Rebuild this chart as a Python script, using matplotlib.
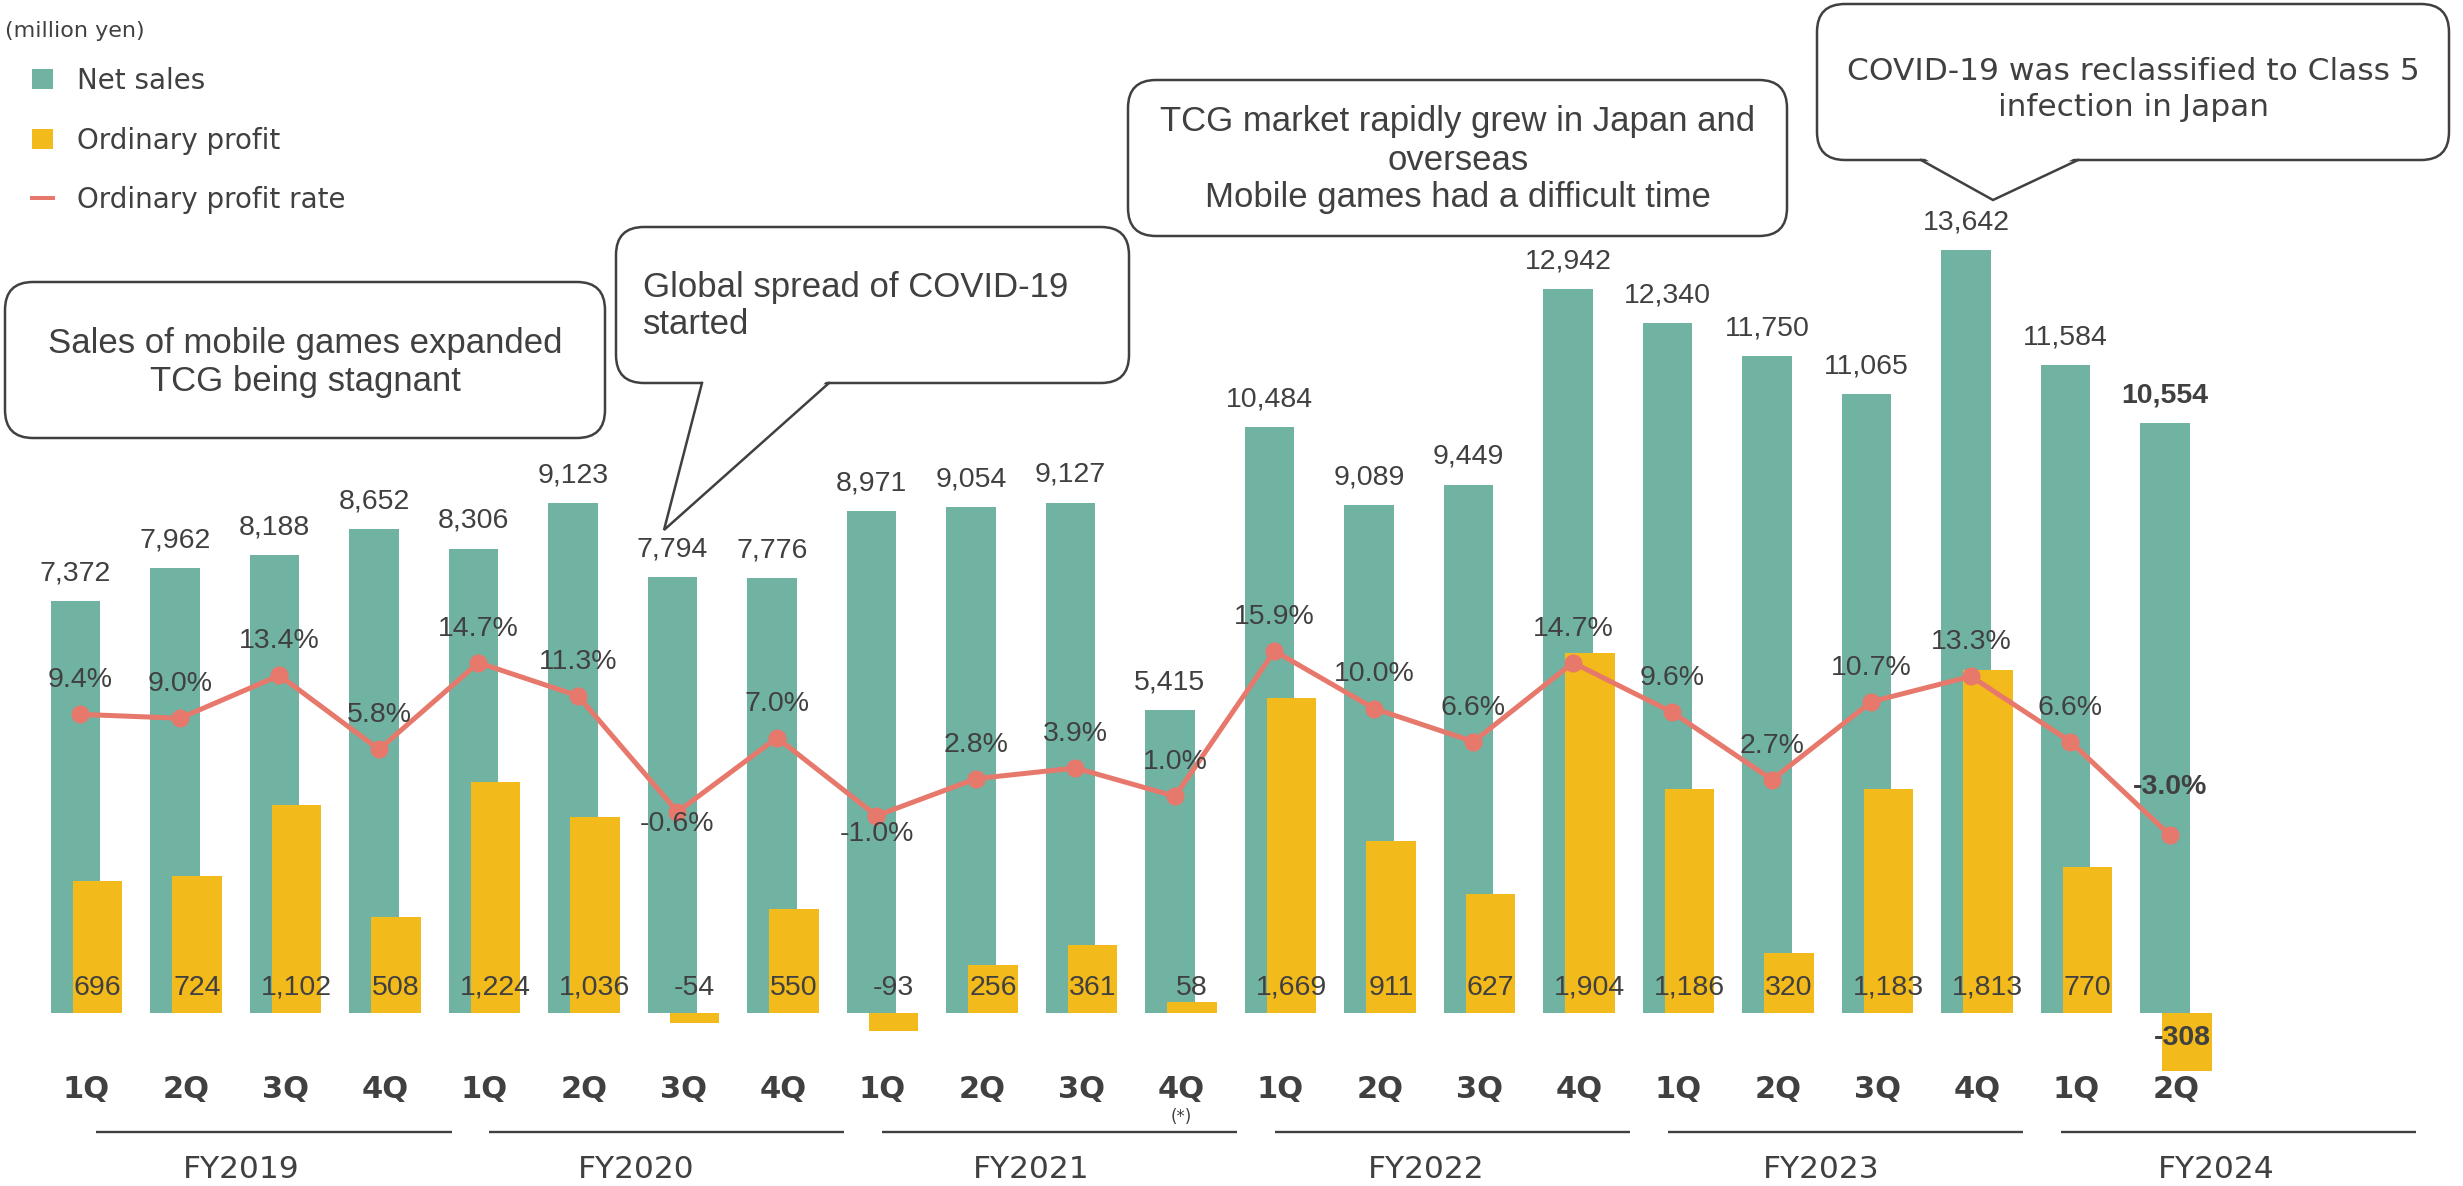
import matplotlib
matplotlib.use("Agg")
import matplotlib.pyplot as plt
import matplotlib.transforms as mtransforms
from matplotlib.patches import FancyBboxPatch, Polygon, Patch
from matplotlib.lines import Line2D
import numpy as np

# ---------------------------------------------------------------- data
fiscal_years = ["FY2019", "FY2020", "FY2021", "FY2022", "FY2023", "FY2024"]
quarters = ["1Q", "2Q", "3Q", "4Q"] * 5 + ["1Q", "2Q"]
net_sales = [7372, 7962, 8188, 8652, 8306, 9123, 7794, 7776,
             8971, 9054, 9127, 5415, 10484, 9089, 9449, 12942,
             12340, 11750, 11065, 13642, 11584, 10554]
ordinary_profit = [696, 724, 1102, 508, 1224, 1036, -54, 550,
                   -93, 256, 361, 58, 1669, 911, 627, 1904,
                   1186, 320, 1183, 1813, 770, -308]
profit_rate = [9.4, 9.0, 13.4, 5.8, 14.7, 11.3, -0.6, 7.0,
               -1.0, 2.8, 3.9, 1.0, 15.9, 10.0, 6.6, 14.7,
               9.6, 2.7, 10.7, 13.3, 6.6, -3.0]

# ---------------------------------------------------------------- style
W, H, DPI = 2463, 1186, 100
TEAL = "#71B3A2"
GOLD = "#F3BA1B"
CORAL = "#E7786C"
INK = "#404040"
NUM_FONT = "Liberation Sans"
UI_FONT = "DejaVu Sans"

STEP = 99.5        # pixels between quarters
X0 = 75.5          # pixel x of the first sales bar centre
BASE = 173         # pixel height of the zero line above the bottom edge
SALES_PX = 0.05591  # pixels per million yen (net sales)
PROFIT_PX = 0.189   # pixels per million yen (ordinary profit)
RATE_ZERO = 380     # pixel height of 0 % above the bottom edge
RATE_PX = 9.75      # pixels per percentage point

fig = plt.figure(figsize=(W / DPI, H / DPI), dpi=DPI)
ax_sales = fig.add_axes([0, 0, 1, 1])
ax_profit = ax_sales.twinx()
ax_rate = ax_sales.twinx()
ax_note = fig.add_axes([0, 0, 1, 1], label="notes")
for a in (ax_sales, ax_profit, ax_rate, ax_note):
    a.set_axis_off()
    a.patch.set_visible(False)

ax_sales.set_xlim(-X0 / STEP, (W - X0) / STEP)
ax_sales.set_ylim(-BASE / SALES_PX, (H - BASE) / SALES_PX)
ax_profit.set_ylim(-BASE / PROFIT_PX, (H - BASE) / PROFIT_PX)
ax_rate.set_ylim(-RATE_ZERO / RATE_PX, (H - RATE_ZERO) / RATE_PX)
ax_note.set_xlim(0, W)
ax_note.set_ylim(H, 0)

x = np.arange(len(net_sales))
last = len(net_sales) - 1
BAR_W = 0.495
PROFIT_SHIFT = 0.22
RATE_SHIFT = 0.05

# ---------------------------------------------------------------- marks
ax_sales.bar(x, net_sales, width=BAR_W, color=TEAL, zorder=2)
ax_profit.bar(x + PROFIT_SHIFT, ordinary_profit, width=BAR_W, color=GOLD, zorder=2)
ax_rate.plot(x + RATE_SHIFT, profit_rate, color=CORAL, lw=3.6,
             marker="o", ms=12, zorder=3, solid_capstyle="round")

# ---------------------------------------------------------------- value labels
for i, v in enumerate(net_sales):
    ax_sales.annotate(f"{v:,}", (x[i], v), xytext=(0, 20), textcoords="offset points",
                      ha="center", va="center", fontsize=20.5, family=NUM_FONT,
                      color=INK, fontweight="bold" if i == last else "normal", zorder=5)

for i, v in enumerate(ordinary_profit):
    below = i == last
    ax_profit.annotate(f"{v:,}", (x[i] + PROFIT_SHIFT - (0.05 if below else 0), 0),
                       xytext=(0, -18 if below else 18), textcoords="offset points",
                       ha="center", va="center", fontsize=20.5, family=NUM_FONT,
                       color=INK, fontweight="bold" if below else "normal", zorder=5)

rate_label_offset = {6: -8.6, 8: -13.0, last: 34.5}
for i, v in enumerate(profit_rate):
    ax_rate.annotate(f"{v:.1f}%", (x[i] + RATE_SHIFT, v),
                     xytext=(0, rate_label_offset.get(i, 24.5)), textcoords="offset points",
                     ha="center", va="center", fontsize=20.5, family=NUM_FONT,
                     color=INK, fontweight="bold" if i == last else "normal", zorder=6)

# ---------------------------------------------------------------- category axis
bt = mtransforms.blended_transform_factory(ax_sales.transData, ax_note.transData)
for i, q in enumerate(quarters):
    ax_note.text(x[i] + 0.11, 1090, q, transform=bt, ha="center", va="center",
                 fontsize=22, fontweight="bold", family=UI_FONT, color=INK)

for k, fy in enumerate(fiscal_years):
    start = 4 * k * 0.987 + 0.21
    ax_note.add_artist(Line2D([start, start + 3.57], [1132, 1132], transform=bt,
                              color=INK, lw=1.7, solid_capstyle="butt"))
    ax_note.text(1.663 + 3.97 * k, 1169, fy, transform=bt, ha="center", va="center",
                 fontsize=22.5, family=UI_FONT, color=INK)

ax_note.text(x[11] + 0.11, 1117, "(*)", transform=bt, ha="center", va="center",
             fontsize=12, family=UI_FONT, color=INK)

# ---------------------------------------------------------------- callouts
def callout(left, top, width, height, lines, ys, text_x, ha, font, size, pointer=None):
    box = FancyBboxPatch((left, top), width, height,
                         boxstyle="round,pad=0,rounding_size=28",
                         facecolor="white", edgecolor=INK, lw=1.8, zorder=10)
    ax_note.add_patch(box)
    if pointer is not None:
        (b1, b2), (tx, ty) = pointer
        bottom = top + height
        ax_note.add_patch(Polygon([(b1 + 1, bottom - 3), (tx, ty), (b2 - 1, bottom - 3)],
                                  closed=True, facecolor="white", edgecolor="none", zorder=11))
        ax_note.add_artist(Line2D([b1, tx, b2], [bottom, ty, bottom], color=INK,
                                  lw=1.8, zorder=12, solid_joinstyle="miter"))
    for line, y in zip(lines, ys):
        ax_note.text(text_x, y, line, ha=ha, va="center", fontsize=size,
                     family=font, color=INK, zorder=13)


callout(5, 282, 600, 156,
        ["Sales of mobile games expanded", "TCG being stagnant"], [343, 382],
        305, "center", NUM_FONT, 25)
callout(616, 227, 513, 156,
        ["Global spread of COVID-19", "started"], [287, 325],
        643, "left", NUM_FONT, 25, pointer=((702, 829), (664, 530)))
callout(1128, 80, 659, 156,
        ["TCG market rapidly grew in Japan and", "overseas",
         "Mobile games had a difficult time"], [122, 160, 198],
        1458, "center", NUM_FONT, 25)
callout(1817, 4, 632, 156,
        ["COVID-19 was reclassified to Class 5", "infection in Japan"], [71, 107],
        2133, "center", UI_FONT, 22.5, pointer=((1921, 2078), (1993, 200)))

# ---------------------------------------------------------------- legend
ax_note.text(5, 31, "(million yen)", ha="left", va="center", fontsize=16,
             family=UI_FONT, color=INK)
handles = [Patch(facecolor=TEAL, edgecolor="none"),
           Patch(facecolor=GOLD, edgecolor="none"),
           Line2D([], [], color=CORAL, lw=2.9)]
fig.legend(handles, ["Net sales", "Ordinary profit", "Ordinary profit rate"],
           loc="upper left", bbox_to_anchor=(32 / W, 1 - 67 / H),
           bbox_transform=fig.transFigure, frameon=False,
           prop={"family": UI_FONT, "size": 20}, labelcolor=INK,
           handlelength=0.75, handleheight=0.75, handletextpad=0.86,
           labelspacing=1.14, borderpad=0, borderaxespad=0)

fig.savefig("out.png", dpi=DPI)
